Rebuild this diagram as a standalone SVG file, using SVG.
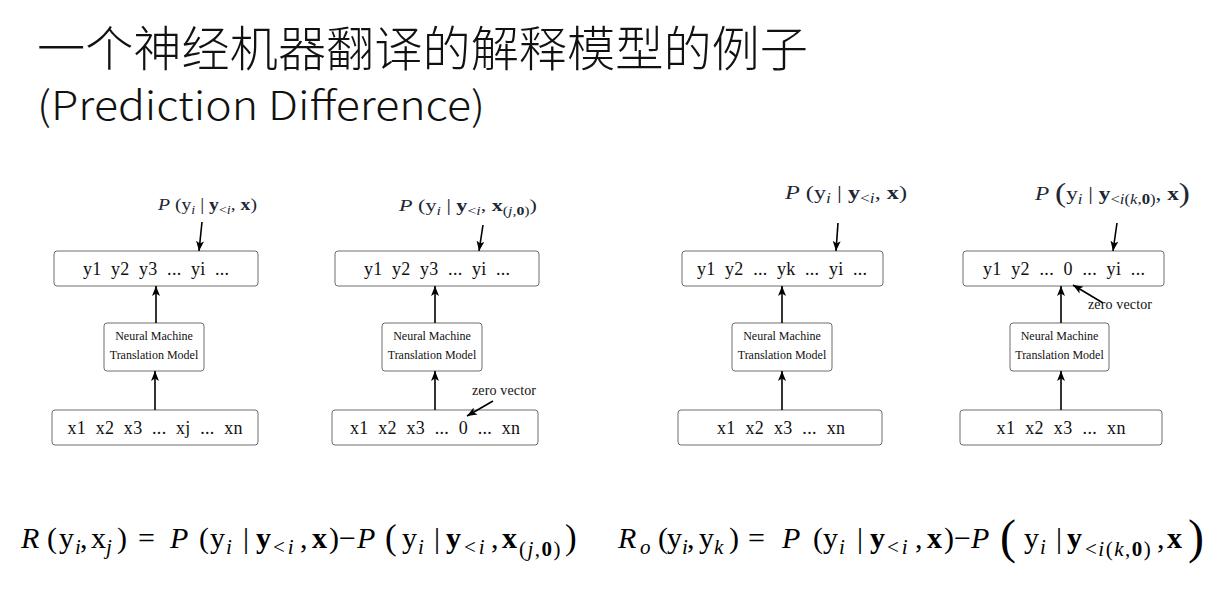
<svg xmlns="http://www.w3.org/2000/svg" width="1214" height="604" viewBox="0 0 1214 604">
<defs>
<marker id="ah" viewBox="0 0 10 8" refX="10" refY="4" markerWidth="10" markerHeight="8" markerUnits="userSpaceOnUse" orient="auto">
<path d="M0,0 L10,4 L0,8 L2.5,4 Z" fill="#000"/>
</marker>
<style>
.box{fill:#fff;stroke:#6e6e6e;stroke-width:1}
.t{font-family:"Liberation Serif","Times New Roman",serif;fill:#111;white-space:pre}
.big{font-size:18px;text-anchor:middle}
.mdl{font-size:12px;text-anchor:middle}
.zv{font-size:14px}
.m{font-family:"Liberation Serif","Times New Roman",serif;fill:#1d2733;white-space:pre}
.f{font-family:"Liberation Serif","Times New Roman",serif;fill:#000;font-size:30px}
.s{font-size:21px}
.ls{letter-spacing:1.5px}
.ls2{letter-spacing:3px}
.it{font-style:italic}
.bd{font-weight:bold}
.arr{stroke:#000;stroke-width:1.6;fill:none;marker-end:url(#ah)}
.title{font-family:"Noto Sans CJK SC","Microsoft YaHei","Noto Sans",sans-serif;font-weight:300;fill:#111}
</style>
</defs>

<g id="title">
<text class="title" x="37" y="66" font-size="48" textLength="771" lengthAdjust="spacingAndGlyphs">一个神经机器翻译的解释模型的例子</text>
<text class="title" x="37" y="120" font-size="40" textLength="448" lengthAdjust="spacingAndGlyphs">(Prediction Difference)</text>
</g>

<!-- Diagram 1 -->
<g id="d1-output">
<rect class="box" x="54" y="251" width="204" height="35" rx="3"/>
<text class="t big" x="156" y="275" textLength="146">y1  y2  y3  ...  yi  ...</text>
</g>
<g id="d1-model">
<rect class="box" x="104" y="323" width="100" height="48" rx="3"/>
<text class="t mdl" x="154" y="340">Neural Machine</text>
<text class="t mdl" x="154" y="359">Translation Model</text>
</g>
<g id="d1-input">
<rect class="box" x="52" y="410" width="206" height="35" rx="3"/>
<text class="t big" x="155" y="434" textLength="175">x1  x2  x3  ...  xj  ...  xn</text>
</g>
<g id="d1-label">
<text class="m" x="158" y="210" font-size="17.5" textLength="99" lengthAdjust="spacingAndGlyphs"><tspan class="it">P</tspan> (y<tspan class="it" dy="4" font-size="12.5">i</tspan><tspan dy="-4"> | </tspan><tspan class="bd">y</tspan><tspan dy="4" font-size="12.5">&lt;<tspan class="it">i</tspan></tspan><tspan dy="-4">, </tspan><tspan class="bd">x</tspan>)</text>
</g>

<!-- Diagram 2 -->
<g id="d2-output">
<rect class="box" x="335" y="251" width="204" height="35" rx="3"/>
<text class="t big" x="437" y="275" textLength="146">y1  y2  y3  ...  yi  ...</text>
</g>
<g id="d2-model">
<rect class="box" x="382" y="323" width="100" height="48" rx="3"/>
<text class="t mdl" x="432" y="340">Neural Machine</text>
<text class="t mdl" x="432" y="359">Translation Model</text>
</g>
<g id="d2-input">
<rect class="box" x="332" y="410" width="206" height="35" rx="3"/>
<text class="t big" x="435" y="434" textLength="170">x1  x2  x3  ...  0  ...  xn</text>
</g>
<g id="d2-zero">
<text class="t zv" x="472" y="395" textLength="64">zero vector</text>
</g>
<g id="d2-label">
<text class="m" x="399" y="211" font-size="17.5" textLength="138" lengthAdjust="spacingAndGlyphs"><tspan class="it">P</tspan> (y<tspan class="it" dy="4" font-size="12.5">i</tspan><tspan dy="-4"> | </tspan><tspan class="bd">y</tspan><tspan dy="4" font-size="12.5">&lt;<tspan class="it">i</tspan></tspan><tspan dy="-4">, </tspan><tspan class="bd">x</tspan><tspan dy="4" font-size="12.5">(<tspan class="it">j</tspan>,<tspan class="bd">0</tspan>)</tspan><tspan dy="-4">)</tspan></text>
</g>

<!-- Diagram 3 -->
<g id="d3-output">
<rect class="box" x="682" y="251" width="201" height="35" rx="3"/>
<text class="t big" x="782" y="275" textLength="170">y1  y2  ...  yk  ...  yi  ...</text>
</g>
<g id="d3-model">
<rect class="box" x="732" y="323" width="100" height="48" rx="3"/>
<text class="t mdl" x="782" y="340">Neural Machine</text>
<text class="t mdl" x="782" y="359">Translation Model</text>
</g>
<g id="d3-input">
<rect class="box" x="678" y="410" width="204" height="35" rx="3"/>
<text class="t big" x="781" y="434" textLength="128">x1  x2  x3  ...  xn</text>
</g>
<g id="d3-label">
<text class="m" x="785" y="199" font-size="19.5" textLength="122" lengthAdjust="spacingAndGlyphs"><tspan class="it">P</tspan> (y<tspan class="it" dy="4" font-size="14">i</tspan><tspan dy="-4"> | </tspan><tspan class="bd">y</tspan><tspan dy="4" font-size="14">&lt;<tspan class="it">i</tspan></tspan><tspan dy="-4">, </tspan><tspan class="bd">x</tspan>)</text>
</g>

<!-- Diagram 4 -->
<g id="d4-output">
<rect class="box" x="963" y="251" width="201" height="35" rx="3"/>
<text class="t big" x="1064" y="275" textLength="162">y1  y2  ...  0  ...  yi  ...</text>
</g>
<g id="d4-model">
<rect class="box" x="1010" y="323" width="99" height="48" rx="3"/>
<text class="t mdl" x="1059.5" y="340">Neural Machine</text>
<text class="t mdl" x="1059.5" y="359">Translation Model</text>
</g>
<g id="d4-input">
<rect class="box" x="960" y="410" width="202" height="35" rx="3"/>
<text class="t big" x="1061" y="434" textLength="129">x1  x2  x3  ...  xn</text>
</g>
<g id="d4-zero">
<text class="t zv" x="1088" y="309" textLength="64">zero vector</text>
</g>
<g id="d4-label">
<text class="m" x="1035" y="200" font-size="19.5" textLength="155" lengthAdjust="spacingAndGlyphs"><tspan class="it">P</tspan> <tspan font-size="28" dy="2">(</tspan><tspan dy="-2">y</tspan><tspan class="it" dy="4" font-size="14">i</tspan><tspan dy="-4"> | </tspan><tspan class="bd">y</tspan><tspan dy="4" font-size="14">&lt;<tspan class="it">i</tspan>(<tspan class="it">k</tspan>,<tspan class="bd">0</tspan>)</tspan><tspan dy="-4">, </tspan><tspan class="bd">x</tspan><tspan font-size="28" dy="2">)</tspan></text>
</g>

<!-- connectors -->
<g id="connectors">
<line class="arr" x1="155" y1="410" x2="155" y2="371"/>
<line class="arr" x1="156" y1="323" x2="156" y2="286"/>
<line class="arr" x1="202" y1="222" x2="199" y2="251"/>

<line class="arr" x1="435" y1="410" x2="435" y2="371"/>
<line class="arr" x1="435" y1="323" x2="435" y2="286"/>
<line class="arr" x1="483" y1="225" x2="479" y2="251"/>
<line class="arr" x1="493" y1="401" x2="467" y2="416"/>

<line class="arr" x1="782" y1="410" x2="782" y2="371"/>
<line class="arr" x1="782" y1="323" x2="782" y2="286"/>
<line class="arr" x1="838" y1="223" x2="836" y2="251"/>

<line class="arr" x1="1061" y1="410" x2="1061" y2="371"/>
<line class="arr" x1="1061" y1="323" x2="1061" y2="286"/>
<line class="arr" x1="1117" y1="223" x2="1113" y2="251"/>
<line class="arr" x1="1103" y1="303" x2="1073" y2="285"/>
</g>

<!-- formulas -->
<g id="formula-1">
<text class="f" y="548"><tspan x="21" class="it">R</tspan><tspan x="47">(</tspan><tspan x="59">y</tspan><tspan x="75" y="554" class="s it">i</tspan><tspan x="80" y="548">,</tspan><tspan x="91">x</tspan><tspan x="106" y="554" class="s it">j</tspan><tspan x="117" y="548">)</tspan><tspan x="138">=</tspan><tspan x="170" class="it">P</tspan><tspan x="199">(</tspan><tspan x="210">y</tspan><tspan x="226" y="554" class="s it">i</tspan><tspan x="243" y="548">|</tspan><tspan x="256" class="bd">y</tspan><tspan x="273" y="554" class="s ls2">&lt;<tspan class="it">i</tspan></tspan><tspan x="300" y="548">,</tspan><tspan x="312" class="bd">x</tspan><tspan x="329">)</tspan><tspan x="339">−</tspan><tspan x="357" class="it">P</tspan><tspan x="385" font-size="35" y="549">(</tspan><tspan x="402" y="548">y</tspan><tspan x="418" y="554" class="s it">i</tspan><tspan x="434" y="548">|</tspan><tspan x="446" class="bd">y</tspan><tspan x="464" y="554" class="s ls2">&lt;<tspan class="it">i</tspan></tspan><tspan x="491" y="548">,</tspan><tspan x="502" class="bd">x</tspan><tspan x="519" y="556" class="s ls">(<tspan class="it">j</tspan>,<tspan class="bd">0</tspan>)</tspan><tspan x="565" y="549" font-size="35">)</tspan></text>
</g>
<g id="formula-2">
<text class="f" y="548"><tspan x="618" class="it">R</tspan><tspan x="640" y="554" class="s it">o</tspan><tspan x="658" y="548">(</tspan><tspan x="667">y</tspan><tspan x="682" y="554" class="s it">i</tspan><tspan x="687" y="548">,</tspan><tspan x="699">y</tspan><tspan x="714" y="554" class="s it">k</tspan><tspan x="729" y="548">)</tspan><tspan x="748">=</tspan><tspan x="782" class="it">P</tspan><tspan x="813">(</tspan><tspan x="823">y</tspan><tspan x="839" y="554" class="s it">i</tspan><tspan x="857" y="548">|</tspan><tspan x="870" class="bd">y</tspan><tspan x="887" y="554" class="s ls2">&lt;<tspan class="it">i</tspan></tspan><tspan x="915" y="548">,</tspan><tspan x="927" class="bd">x</tspan><tspan x="944">)</tspan><tspan x="954">−</tspan><tspan x="971" class="it">P</tspan><tspan x="1000" y="553" font-size="48">(</tspan><tspan x="1024" y="548">y</tspan><tspan x="1040" y="554" class="s it">i</tspan><tspan x="1056" y="548">|</tspan><tspan x="1067" class="bd">y</tspan><tspan x="1085" y="556" class="s ls">&lt;<tspan class="it">i</tspan>(<tspan class="it">k</tspan>,<tspan class="bd">0</tspan>)</tspan><tspan x="1157" y="548">,</tspan><tspan x="1167" class="bd">x</tspan><tspan x="1188" y="553" font-size="48">)</tspan></text>
</g>
</svg>
